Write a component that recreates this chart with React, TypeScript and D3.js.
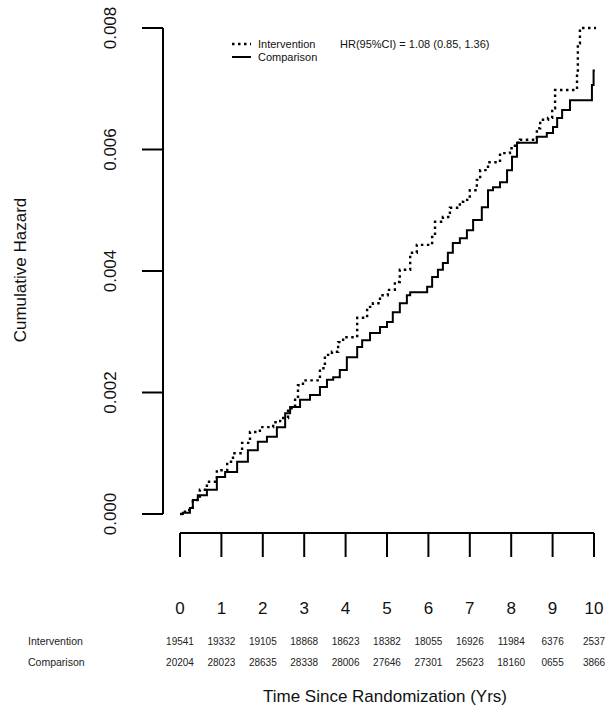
import React from "react";
import * as d3 from "d3";

const yTicks = [0, 0.002, 0.004, 0.006, 0.008];
const yTickLabels = ["0.000", "0.002", "0.004", "0.006", "0.008"];
const xTicks = [0, 1, 2, 3, 4, 5, 6, 7, 8, 9, 10];

const interventionTime = [0, 0.12, 0.31, 0.48, 0.65, 0.89, 1.14, 1.28, 1.5, 1.69, 1.93, 2.25, 2.42, 2.61, 2.78, 2.85, 2.97, 3.38, 3.5, 3.67, 3.82, 3.94, 4.28, 4.52, 4.66, 4.83, 5.02, 5.19, 5.31, 5.56, 5.72, 6.09, 6.16, 6.35, 6.52, 6.76, 6.84, 7.0, 7.17, 7.25, 7.44, 7.73, 7.97, 8.09, 8.21, 8.62, 8.7, 8.89, 8.99, 9.06, 9.59, 9.61, 9.66, 10.05];
const interventionHazard = [0, 0.000066, 0.00023, 0.0004, 0.00053, 0.00072, 0.00086, 0.001, 0.00117, 0.00135, 0.00143, 0.00151, 0.00158, 0.00174, 0.00188, 0.00212, 0.0022, 0.0024, 0.00262, 0.00267, 0.00283, 0.00291, 0.00323, 0.00341, 0.00347, 0.0036, 0.00369, 0.00382, 0.00402, 0.0043, 0.00443, 0.00456, 0.00481, 0.00489, 0.00504, 0.00514, 0.00517, 0.00533, 0.0055, 0.00566, 0.00579, 0.00594, 0.00602, 0.00611, 0.00616, 0.00635, 0.00649, 0.00652, 0.00668, 0.00698, 0.00726, 0.00775, 0.008, 0.008];

const comparisonTime = [0, 0.07, 0.24, 0.31, 0.43, 0.65, 0.89, 1.09, 1.38, 1.64, 1.88, 2.1, 2.34, 2.54, 2.66, 2.9, 3.14, 3.38, 3.55, 3.7, 3.86, 4.03, 4.28, 4.4, 4.59, 4.83, 5.0, 5.14, 5.31, 5.48, 5.56, 5.97, 6.09, 6.23, 6.35, 6.47, 6.59, 6.76, 6.93, 7.08, 7.29, 7.44, 7.56, 7.73, 7.9, 8.02, 8.14, 8.62, 8.86, 9.01, 9.11, 9.23, 9.42, 9.95, 9.99, 10.02];
const comparisonHazard = [0, 0.00002, 0.0001, 0.00023, 0.00031, 0.0004, 0.00061, 0.00069, 0.00086, 0.00105, 0.00119, 0.00127, 0.00143, 0.00166, 0.00176, 0.00188, 0.00196, 0.00209, 0.00221, 0.00225, 0.00237, 0.00258, 0.00275, 0.00286, 0.00298, 0.00308, 0.00316, 0.00332, 0.00347, 0.0036, 0.00365, 0.00374, 0.0039, 0.00402, 0.00413, 0.0043, 0.00446, 0.00454, 0.00467, 0.00484, 0.00505, 0.00533, 0.00538, 0.00546, 0.00566, 0.00588, 0.00611, 0.00621, 0.00627, 0.00637, 0.00652, 0.00665, 0.00681, 0.00706, 0.0073, 0.0073];

const riskGroups = ["Intervention", "Comparison"];
const riskIntervention = ["19541", "19332", "19105", "18868", "18623", "18382", "18055", "16926", "11984", "6376", "2537"];
const riskComparison = ["20204", "28023", "28635", "28338", "28006", "27646", "27301", "25623", "18160", "0655", "3866"];

const legendLabels = ["Intervention", "Comparison"];
const hrText = "HR(95%CI) = 1.08 (0.85, 1.36)";

export default function App() {
  const W = 612;
  const H = 713;
  const font = "'Liberation Sans', Arial, Helvetica, sans-serif";
  const x = d3.scaleLinear().domain([0, 10]).range([180, 594]);
  const y = d3.scaleLinear().domain([0, 0.008]).range([514, 28]);
  const line = d3
    .line<[number, number]>()
    .x((d) => x(d[0]))
    .y((d) => y(d[1]))
    .curve(d3.curveStepAfter);
  const intData: [number, number][] = interventionTime.map((t, i) => [t, interventionHazard[i]]);
  const cmpData: [number, number][] = comparisonTime.map((t, i) => [t, comparisonHazard[i]]);
  const axisX = 163;
  const xAxisY = 533;
  const riskRows = [riskIntervention, riskComparison];

  return (
    <svg width={W} height={H} style={{ position: "absolute", left: 0, top: 0, background: "#fff" }} fontFamily={font}>
      <rect x={0} y={0} width={W} height={H} fill="#fff" />
      {/* Y axis */}
      <line x1={axisX} x2={axisX} y1={y(0)} y2={y(0.008)} stroke="#000" strokeWidth={2} />
      {yTicks.map((t, i) => (
        <g key={t}>
          <line x1={142} x2={axisX} y1={y(t)} y2={y(t)} stroke="#000" strokeWidth={2} />
          <text transform={`translate(116,${y(t)}) rotate(-90)`} textAnchor="middle" fontSize={17} fill="#111">
            {yTickLabels[i]}
          </text>
        </g>
      ))}
      <text transform={`translate(26,270) rotate(-90)`} textAnchor="middle" fontSize={17} fill="#111">
        Cumulative Hazard
      </text>
      {/* X axis */}
      <line x1={x(0)} x2={x(10)} y1={xAxisY} y2={xAxisY} stroke="#000" strokeWidth={2} />
      {xTicks.map((t) => (
        <g key={t}>
          <line x1={x(t)} x2={x(t)} y1={xAxisY} y2={557} stroke="#000" strokeWidth={2} />
          <text x={x(t)} y={614} textAnchor="middle" fontSize={17} fill="#111">
            {t}
          </text>
        </g>
      ))}
      {/* curves */}
      <path d={line(cmpData) || ""} fill="none" stroke="#000" strokeWidth={2} />
      <path d={line(intData) || ""} fill="none" stroke="#000" strokeWidth={2.4} strokeDasharray="2.5,3.5" />
      {/* legend */}
      <line x1={232} x2={251} y1={44} y2={44} stroke="#000" strokeWidth={2.4} strokeDasharray="2.5,3.5" />
      <line x1={232} x2={251} y1={57} y2={57} stroke="#000" strokeWidth={2} />
      <text x={258} y={48} fontSize={11} fill="#111">{legendLabels[0]}</text>
      <text x={258} y={61} fontSize={11} fill="#111">{legendLabels[1]}</text>
      <text x={340} y={48} fontSize={11} fill="#111">{hrText}</text>
      {/* risk table */}
      {riskGroups.map((g, r) => (
        <g key={g}>
          <text x={28} y={645 + r * 21} fontSize={10.5} fill="#222">{g}</text>
          {riskRows[r].map((v, i) => (
            <text key={i} x={x(i)} y={645 + r * 21} textAnchor="middle" fontSize={10} fill="#222">
              {v}
            </text>
          ))}
        </g>
      ))}
      <text x={385} y={702} textAnchor="middle" fontSize={17} fill="#111">
        Time Since Randomization (Yrs)
      </text>
    </svg>
  );
}
